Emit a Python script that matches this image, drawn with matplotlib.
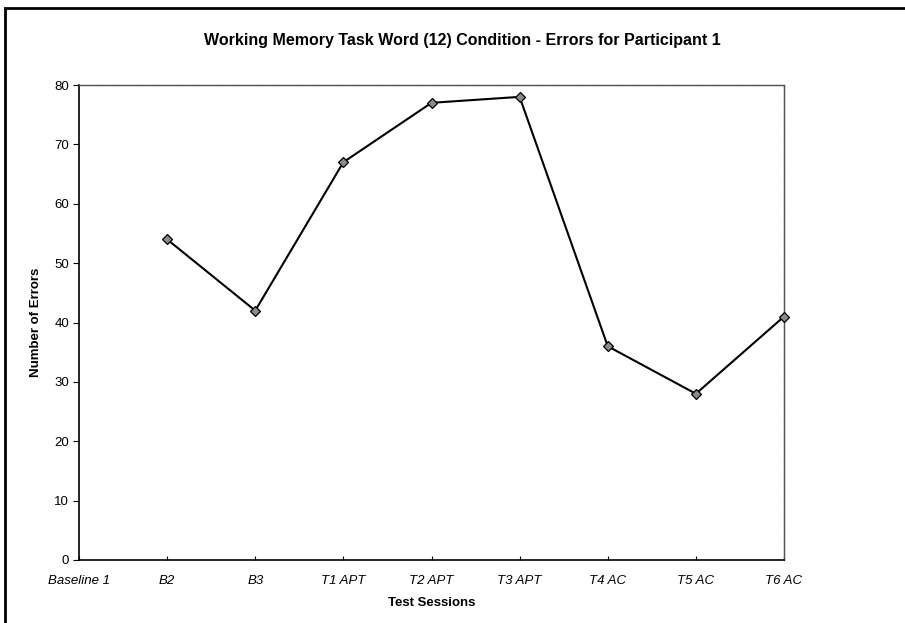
import numpy as np
import matplotlib.pyplot as plt
from matplotlib.patches import Rectangle

plt.rcParams['font.family'] = ['Liberation Sans', 'DejaVu Sans']

sessions = ['Baseline 1', 'B2', 'B3', 'T1 APT', 'T2 APT', 'T3 APT', 'T4 AC', 'T5 AC', 'T6 AC']
errors = [np.nan, 54, 42, 67, 77, 78, 36, 28, 41]
y_ticks = [0, 10, 20, 30, 40, 50, 60, 70, 80]

fig = plt.figure(figsize=(9.05, 6.23), dpi=100)
ax = fig.add_axes([79/905, 1 - 560/623, (784 - 79)/905, (560 - 85)/623])

x = np.arange(len(sessions))
ax.plot(x, errors, color='black', lw=1.5, marker='D', ms=5,
        markerfacecolor='#8a8a8a', markeredgecolor='black', markeredgewidth=0.9,
        clip_on=False, zorder=3)

ax.set_xlim(0, len(sessions) - 1)
ax.set_ylim(0, 80)
ax.set_xticks(x)
ax.set_xticklabels(sessions, fontstyle='italic', fontsize=9.5)
ax.set_yticks(y_ticks)
ax.set_yticklabels([str(v) for v in y_ticks], fontsize=9.5)
ax.tick_params(axis='x', direction='in', length=3, pad=11)
ax.tick_params(axis='y', direction='out', length=4, pad=3)

for side in ['left', 'bottom']:
    ax.spines[side].set_linewidth(1.2)
    ax.spines[side].set_color('black')
for side in ['top', 'right']:
    ax.spines[side].set_linewidth(1.0)
    ax.spines[side].set_color('#555555')
    ax.spines[side].set_linestyle((0, (1, 0.6)))

ax.set_xlabel('Test Sessions', fontweight='bold', fontsize=9.5, labelpad=7)
ax.set_ylabel('Number of Errors', fontweight='bold', fontsize=9.5, labelpad=9)
fig.text(462/905, 1 - 41/623, 'Working Memory Task Word (12) Condition - Errors for Participant 1',
         ha='center', va='center', fontweight='bold', fontsize=11.5)

# outer chart frame (only left and top edges visible in the scan)
fig.patches.append(Rectangle((5/905, -0.1), 1.2, 1 - 8/623 + 0.1, transform=fig.transFigure,
                             fill=False, edgecolor='black', lw=2.0, clip_on=False))

fig.savefig('out.png', dpi=100)
